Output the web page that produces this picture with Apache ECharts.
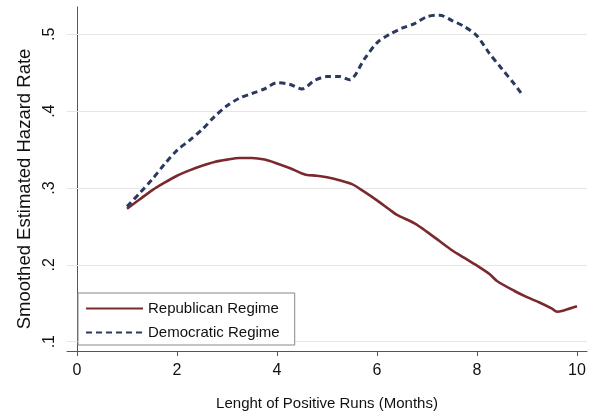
<!DOCTYPE html>
<html><head><meta charset="utf-8">
<script src="https://cdn.jsdelivr.net/npm/echarts@6/dist/echarts.min.js"></script>
<style>html,body{margin:0;padding:0;background:#fff}#c{width:592px;height:419px}</style>
</head><body><div id="c"></div>
<script>
var xTicks = [0, 2, 4, 6, 8, 10];
var yTicks = [0.1, 0.2, 0.3, 0.4, 0.5];
var yTickLabels = ['.1', '.2', '.3', '.4', '.5'];
var repX = [1.0,1.25,1.5,1.75,2.0,2.25,2.5,2.75,3.0,3.25,3.5,3.75,4.0,4.25,4.5,4.6,4.8,5.0,5.25,5.5,5.75,6.0,6.25,6.4,6.75,7.0,7.25,7.5,7.75,8.0,8.25,8.4,8.75,9.0,9.25,9.5,9.6,9.75,10.0];
var repY = [0.273,0.285,0.297,0.307,0.316,0.323,0.329,0.334,0.337,0.339,0.339,0.337,0.332,0.326,0.319,0.317,0.316,0.314,0.310,0.305,0.295,0.284,0.272,0.265,0.254,0.243,0.231,0.219,0.209,0.199,0.188,0.179,0.166,0.158,0.151,0.143,0.139,0.141,0.146];
var demX = [1.0,1.25,1.5,1.75,2.0,2.25,2.5,2.75,3.0,3.25,3.5,3.75,4.0,4.25,4.5,4.75,5.0,5.25,5.45,5.75,6.0,6.25,6.5,6.75,7.0,7.25,7.5,7.75,8.0,8.25,8.5,8.75,8.9];
var demY = [0.276,0.293,0.311,0.331,0.349,0.362,0.376,0.393,0.407,0.417,0.423,0.429,0.437,0.435,0.429,0.440,0.445,0.445,0.441,0.468,0.489,0.500,0.508,0.514,0.523,0.525,0.518,0.510,0.498,0.475,0.455,0.435,0.422];
var seriesNames = ['Republican Regime', 'Democratic Regime'];
var xTitle = 'Lenght of Positive Runs (Months)';
var yTitle = 'Smoothed Estimated Hazard Rate';

function pairs(xs, ys){ return xs.map(function(x,i){ return [x, ys[i]]; }); }
var FONT = '"Liberation Sans", Arial, Helvetica, sans-serif';
var chart = echarts.init(document.getElementById('c'), null, {renderer:'canvas'});
chart.setOption({
  backgroundColor: '#fff',
  animation: false,
  textStyle: {fontFamily: FONT},
  grid: {left: 67, right: 5, top: 7, bottom: 68, containLabel: false},
  xAxis: {
    type: 'value', min: -0.2, max: 10.2,
    name: xTitle, nameLocation: 'middle', nameGap: 45,
    nameTextStyle: {fontSize: 15, color: '#111', fontFamily: FONT},
    axisLine: {show: true, lineStyle: {color: '#555', width: 1}},
    axisTick: {show: true, customValues: xTicks, length: 5, lineStyle: {color: '#555'}},
    axisLabel: {customValues: xTicks, fontSize: 16, color: '#111', margin: 12, fontFamily: FONT},
    splitLine: {show: false}
  },
  yAxis: {
    type: 'value', min: 0.0879, max: 0.5356,
    name: yTitle, nameLocation: 'middle', nameGap: 32, nameRotate: 90,
    nameTextStyle: {fontSize: 18.5, color: '#111', fontFamily: FONT, padding: [0, 20, 0, 0]},
    axisLine: {show: true, lineStyle: {color: '#555', width: 1}},
    axisTick: {show: true, customValues: yTicks, length: 5, lineStyle: {color: '#555'}},
    axisLabel: {customValues: yTicks, rotate: 90, fontSize: 16, color: '#111', margin: 9, fontFamily: FONT,
      formatter: function(v){ var i = yTicks.findIndex(function(t){return Math.abs(t-v)<1e-9;}); return i>=0 ? yTickLabels[i] : ''; }},
    splitLine: {show: false}
  },
  legend: {
    orient: 'vertical', left: 78, top: 293,
    padding: [8, 15, 5, 7], itemGap: 9, itemWidth: 57, itemHeight: 14,
    backgroundColor: '#fff', borderColor: '#888', borderWidth: 1, borderRadius: 0,
    itemStyle: {opacity: 0, borderWidth: 0},
    textStyle: {fontSize: 15, color: '#111', fontFamily: FONT},
    data: seriesNames
  },
  series: [
    {
      name: seriesNames[0], type: 'line', data: pairs(repX, repY),
      showSymbol: false, symbol: 'none', smooth: 0.3,
      lineStyle: {color: '#7a2a2f', width: 2.6},
      itemStyle: {color: '#7a2a2f'},
      z: 3,
      markLine: {
        silent: true, symbol: 'none', z: 1, label: {show: false},
        lineStyle: {color: '#e6e6e6', width: 1, type: 'solid'},
        emphasis: {disabled: true},
        data: yTicks.map(function(t){ return {yAxis: t}; })
      }
    },
    {
      name: seriesNames[1], type: 'line', data: pairs(demX, demY),
      showSymbol: false, symbol: 'none', smooth: 0.3,
      lineStyle: {color: '#2a3a5f', width: 3, type: [6, 4]},
      itemStyle: {color: '#2a3a5f'},
      z: 4
    }
  ]
});
</script></body></html>
